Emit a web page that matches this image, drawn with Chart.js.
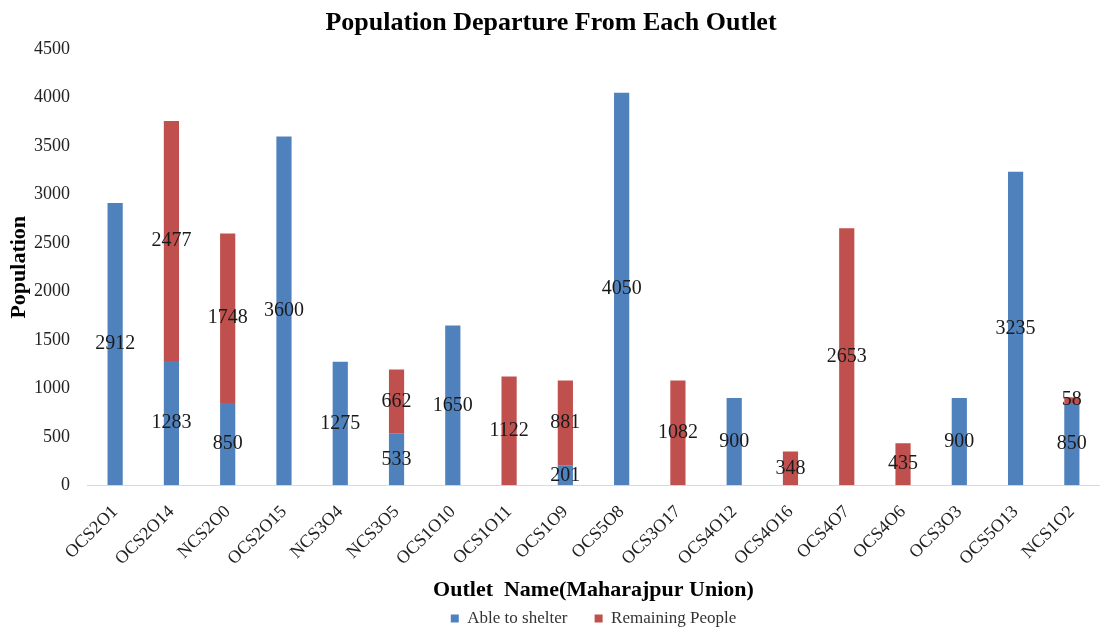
<!DOCTYPE html>
<html>
<head>
<meta charset="utf-8">
<script src="https://cdn.jsdelivr.net/npm/chart.js@4.4.1/dist/chart.umd.min.js"></script>
<style>
  html, body { margin: 0; padding: 0; background: #fff; }
  canvas { display: block; }
</style>
</head>
<body>
<canvas id="myChart" width="1100" height="633"></canvas>
<script>
// outlets along the x axis
const outlets = ['OCS2O1', 'OCS2O14', 'NCS2O0', 'OCS2O15', 'NCS3O4', 'NCS3O5', 'OCS1O10', 'OCS1O11', 'OCS1O9',
  'OCS5O8', 'OCS3O17', 'OCS4O12', 'OCS4O16', 'OCS4O7', 'OCS4O6', 'OCS3O3', 'OCS5O13', 'NCS1O2'];

const ableToShelter = [2912, 1283, 850, 3600, 1275, 533, 1650, 0, 201, 4050, 0, 900, 0, 0, 0, 900, 3235, 850];
const remainingPeople = [0, 2477, 1748, 0, 0, 662, 0, 1122, 881, 0, 1082, 0, 348, 2653, 435, 0, 0, 58];

const serif = '"Liberation Serif", "Times New Roman", serif';

// draws the value in the middle of every segment (no datalabels plugin offline)
const segmentLabels = {
  id: 'segmentLabels',
  afterDatasetsDraw(chart) {
    const ctx = chart.ctx;
    ctx.save();
    ctx.font = '20px ' + serif;
    ctx.fillStyle = '#1a1a1a';
    ctx.textAlign = 'center';
    ctx.textBaseline = 'middle';
    chart.data.datasets.forEach((ds, i) => {
      const meta = chart.getDatasetMeta(i);
      meta.data.forEach((bar, j) => {
        const v = ds.data[j];
        if (!v) return;
        ctx.fillText(String(v), bar.x, (bar.y + bar.base) / 2);
      });
    });
    ctx.restore();
  }
};

new Chart(document.getElementById('myChart'), {
  type: 'bar',
  data: {
    labels: outlets,
    datasets: [
      { label: 'Able to shelter', data: ableToShelter, backgroundColor: '#4F81BD', barPercentage: 0.54, categoryPercentage: 0.5 },
      { label: 'Remaining People', data: remainingPeople, backgroundColor: '#C0504D', barPercentage: 0.54, categoryPercentage: 0.5 }
    ]
  },
  options: {
    responsive: false,
    animation: false,
    layout: { padding: { left: 2, right: 0, top: 2, bottom: -4 } },
    plugins: {
      title: {
        display: true,
        text: 'Population Departure From Each Outlet',
        color: '#000',
        font: { family: serif, size: 26, weight: 'bold' },
        padding: { top: 6, bottom: 10 }
      },
      legend: {
        position: 'bottom',
        fullSize: false,
        labels: {
          color: '#333',
          font: { family: serif, size: 17 },
          boxWidth: 8,
          boxHeight: 8,
          padding: 6,
          // small padding keeps the legend low; widen the gap between the two items instead
          generateLabels(chart) {
            const items = Chart.defaults.plugins.legend.labels.generateLabels(chart);
            items.forEach((it, i) => { if (i < items.length - 1) it.text += '\u00a0\u00a0\u00a0\u00a0\u00a0'; });
            return items;
          }
        }
      },
      tooltip: { enabled: false }
    },
    scales: {
      x: {
        stacked: true,
        grid: { display: false },
        border: { color: '#d9d9d9' },
        ticks: { color: '#222', font: { family: serif, size: 18 }, maxRotation: 45, minRotation: 45, autoSkip: false, padding: 8 },
        title: { display: true, text: 'Outlet  Name(Maharajpur Union)', color: '#000', font: { family: serif, size: 22, weight: 'bold' }, padding: { top: 0, bottom: 0 } },
        // let the rotated first label hang to the left of the plot, like the original
        afterFit(scale) { scale.paddingLeft = 0; scale.paddingRight = 0; }
      },
      y: {
        stacked: true,
        min: 0,
        max: 4500,
        grid: { display: false },
        border: { display: false },
        ticks: { stepSize: 500, color: '#222', font: { family: serif, size: 18 }, padding: 9, callback: v => String(v) },
        title: { display: true, text: 'Population', color: '#000', font: { family: serif, size: 22, weight: 'bold' }, padding: { bottom: 4 } },
        // the axis came out too wide, pin it so the plot starts where the original does
        afterFit(scale) { scale.width = 85; }
      }
    }
  },
  plugins: [segmentLabels]
});
</script>
</body>
</html>
